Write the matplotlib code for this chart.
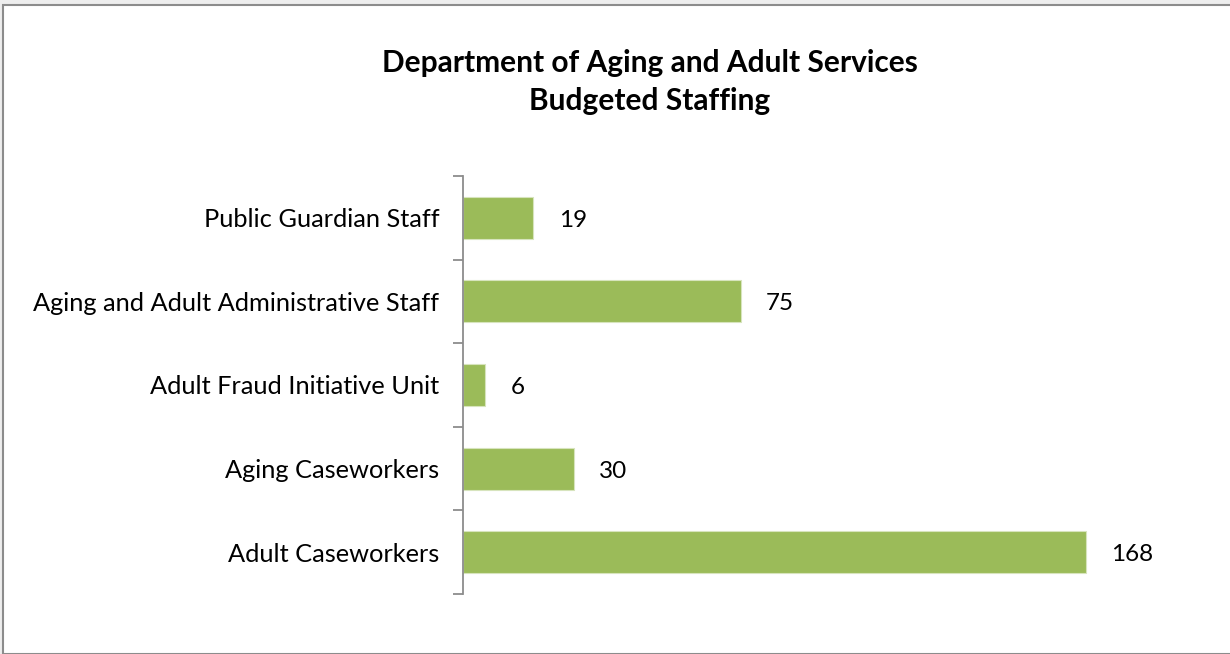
import matplotlib.pyplot as plt
from matplotlib.patches import Rectangle

# Chart data
categories = ['Adult Caseworkers', 'Aging Caseworkers', 'Adult Fraud Initiative Unit',
              'Aging and Adult Administrative Staff', 'Public Guardian Staff']
staff = [168, 30, 6, 75, 19]
title = 'Department of Aging and Adult Services\nBudgeted Staffing'

plt.rcParams['font.family'] = ['Lato', 'DejaVu Sans']

fig = plt.figure(figsize=(12.3, 6.54), dpi=100, facecolor='#eeeeee')

# Chart area frame (behind the axes)
W, H = 1230, 654
fig.patches.append(Rectangle((3 / W, 0), 1.0, 1 - 5 / H, transform=fig.transFigure,
                             facecolor='white', edgecolor='#8c8c8c', linewidth=1.5, zorder=-5))

ax = fig.add_axes([463 / W, 60 / H, 667 / W, 418 / H])
ax.set_facecolor('none')
pos = range(len(categories))
ax.barh(pos, staff, height=0.5, color='#9bbb59', edgecolor='#d7e4bd', linewidth=0.8)

ax.set_xlim(0, 180)
ax.set_ylim(-0.5, len(categories) - 0.5)

# Value labels to the right of each bar
for y, v in zip(pos, staff):
    ax.text(v + 6.8, y - 0.03, str(v), va='center', ha='left', fontsize=17.5, color='black')

# Category ticks at boundaries, labels centered
ax.set_yticks(pos)
ax.set_yticklabels(categories, fontsize=18.3)
ax.set_yticks([i - 0.5 for i in range(len(categories) + 1)], minor=True)
ax.tick_params(axis='y', which='major', length=0, pad=17)
ax.tick_params(axis='y', which='minor', length=7, width=1.3, color='#8c8c8c')
ax.set_xticks([])
for side in ['top', 'right', 'bottom']:
    ax.spines[side].set_visible(False)
ax.spines['left'].set_color('#8c8c8c')
ax.spines['left'].set_linewidth(1.3)

fig.text(650 / W, 1 - 82 / H, title, ha='center', va='center', fontsize=21.5,
         fontweight='bold', linespacing=1.42)

fig.savefig('out.png', dpi=100, facecolor=fig.get_facecolor())
